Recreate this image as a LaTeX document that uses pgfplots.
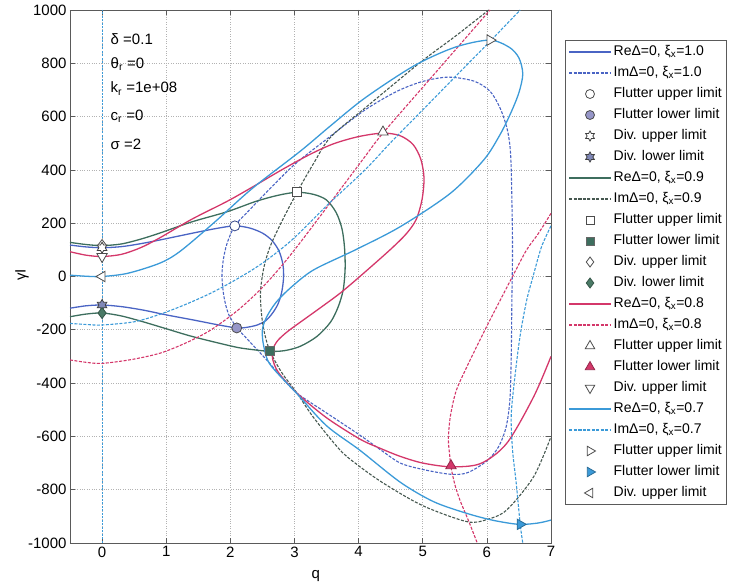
\documentclass[border=0pt]{standalone}
\usepackage{fontspec}
\setmainfont{Liberation Sans}
\usepackage{pgfplots}
\pgfplotsset{compat=1.18}

\definecolor{cA}{RGB}{74,100,196}
\definecolor{cB}{RGB}{61,110,94}
\definecolor{cBd}{RGB}{70,88,80}
\definecolor{cC}{RGB}{212,55,106}
\definecolor{cD}{RGB}{59,154,216}
\definecolor{fA}{RGB}{150,150,200}
\definecolor{fAs}{RGB}{128,136,184}
\definecolor{fB}{RGB}{74,122,102}
\definecolor{axc}{RGB}{90,90,90}

\pgfdeclareplotmark{hexagram}{%
  \pgfpathmoveto{\pgfpointpolar{90}{\pgfplotmarksize}}%
  \pgfpathlineto{\pgfpointpolar{120}{0.577\pgfplotmarksize}}%
  \pgfpathlineto{\pgfpointpolar{150}{\pgfplotmarksize}}%
  \pgfpathlineto{\pgfpointpolar{180}{0.577\pgfplotmarksize}}%
  \pgfpathlineto{\pgfpointpolar{210}{\pgfplotmarksize}}%
  \pgfpathlineto{\pgfpointpolar{240}{0.577\pgfplotmarksize}}%
  \pgfpathlineto{\pgfpointpolar{270}{\pgfplotmarksize}}%
  \pgfpathlineto{\pgfpointpolar{300}{0.577\pgfplotmarksize}}%
  \pgfpathlineto{\pgfpointpolar{330}{\pgfplotmarksize}}%
  \pgfpathlineto{\pgfpointpolar{0}{0.577\pgfplotmarksize}}%
  \pgfpathlineto{\pgfpointpolar{30}{\pgfplotmarksize}}%
  \pgfpathlineto{\pgfpointpolar{60}{0.577\pgfplotmarksize}}%
  \pgfpathclose
  \pgfusepathqfillstroke
}

\pgfplotsset{
  re/.style={smooth, line width=1.3pt, no marks},
  im/.style={smooth, line width=1.1pt, no marks, dash pattern=on 3pt off 1.5pt},
}

\begin{document}
\begin{tikzpicture}[x=1pt,y=1pt]
\path[use as bounding box] (-70,-40) rectangle (666,543);
\begin{axis}[
  at={(0,0)}, anchor=south west,
  scale only axis, width=481pt, height=533pt,
  xmin=-0.5, xmax=7, ymin=-1000, ymax=1000,
  xtick={0,1,...,7}, ytick={-1000,-800,...,1000},
  grid=major, grid style={dotted, gray!60, line width=0.7pt},
  tick align=inside, major tick length=5pt,
  axis line style={axc, line width=0.8pt},
  tick style={axc, line width=0.6pt},
  tick label style={font=\fontsize{15}{17}\selectfont},
  /pgf/number format/assume math mode=true,
  /pgf/number format/1000 sep={},
  xlabel={q}, ylabel={γI},
  label style={font=\fontsize{15}{17}\selectfont},
  xlabel style={at={(axis description cs:0.511,-0.066)}, anchor=base},
  ylabel style={at={(axis description cs:-0.1,0.503)}, anchor=center},
  legend image code/.code={\draw[mark repeat=2,mark phase=2,#1] plot coordinates {(0pt,0pt) (21pt,0pt) (42pt,0pt)};},
  legend cell align=left,
  legend style={at={(axis description cs:1.029,0.944)}, anchor=north west,
    draw=axc, line width=0.8pt, font=\fontsize{14}{16}\selectfont,
    row sep=3.5pt, inner xsep=3pt, inner ysep=3pt,
    nodes={text height=10pt, text depth=3.5pt, inner sep=2pt}},
]
% vertical Im line at q=0
\addplot[forget plot, cD, line width=1pt, dash pattern=on 2pt off 1.5pt] coordinates {(0,-1000) (0,1000)};

% ---------- xi = 1.0
\addplot[forget plot, re, cA] coordinates {
(-0.5,118) (-0.25,111) (0,108) (0.3,112) (0.6,123) (0.9,137) (1.2,152) (1.5,167) (1.8,181) (2.07,190)
(2.3,182) (2.5,163) (2.65,135) (2.76,95) (2.82,45) (2.83,-5) (2.80,-60) (2.74,-105) (2.65,-140)
(2.55,-166) (2.42,-182) (2.25,-191) (2.10,-193) (1.8,-181) (1.42,-163) (1.0,-144) (0.64,-126)
(0.3,-113) (0,-107) (-0.25,-110) (-0.5,-119)};
\addplot[forget plot, im, cA] coordinates {
(2.10,-193) (1.97,-140) (1.90,-75) (1.87,0) (1.89,62) (1.95,125) (2.07,190) (2.3,250) (2.6,325)
(3.0,420) (3.5,515) (4.1,625) (4.6,695) (5.0,732) (5.4,748) (5.8,733) (6.05,695) (6.21,630)
(6.32,550) (6.37,460) (6.39,290) (6.40,100) (6.39,-90) (6.38,-300) (6.36,-460) (6.30,-565)
(6.18,-640) (6.0,-692) (5.7,-736) (5.43,-742) (5.0,-724) (4.65,-700) (4.34,-650) (4.0,-592)
(3.5,-512) (3.04,-438) (2.8,-378) (2.6,-322) (2.35,-257) (2.10,-193)};

% ---------- xi = 0.9
\addplot[forget plot, re, cB] coordinates {
(-0.5,128) (-0.25,120) (0,116) (0.3,122) (0.6,140) (0.9,163) (1.4,205) (1.95,243) (2.4,282)
(2.75,305) (3.04,316) (3.3,308) (3.5,287) (3.65,240) (3.74,180) (3.78,110) (3.79,30) (3.76,-50)
(3.68,-115) (3.56,-172) (3.35,-225) (3.09,-262) (2.85,-278) (2.62,-281) (2.3,-273) (2.05,-263)
(1.42,-226) (1.0,-196) (0.64,-170) (0.3,-148) (0,-137) (-0.25,-141) (-0.5,-151)};
\addplot[forget plot, im, cBd] coordinates {
(6.03,1000) (5.5,900) (4.96,803) (4.1,632) (3.56,522) (3.3,425) (3.04,316) (2.8,205) (2.62,112)
(2.52,30) (2.47,-60) (2.49,-150) (2.54,-220) (2.62,-281) (2.8,-360) (3.04,-438) (3.3,-530)
(3.71,-651) (4.0,-710) (4.39,-776) (5.0,-860) (5.69,-920) (6.0,-912) (6.31,-876) (6.73,-751) (7.0,-601)};

% ---------- xi = 0.8
\addplot[forget plot, re, cC] coordinates {
(-0.5,93) (-0.25,80) (0,75) (0.3,83) (0.6,108) (0.9,145) (1.4,215) (1.95,282) (2.34,335) (2.8,400)
(3.24,458) (3.61,498) (4.0,525) (4.38,538) (4.65,528) (4.85,495) (4.97,440) (5.02,370) (4.99,290)
(4.90,215) (4.75,162) (4.49,100) (4.02,0) (3.71,-63) (3.40,-118) (3.14,-163) (2.90,-205)
(2.74,-240) (2.66,-275) (2.66,-310) (2.75,-360) (3.04,-438) (3.5,-530) (4.02,-610) (4.34,-645)
(4.65,-675) (5.0,-700) (5.44,-714) (5.9,-702) (6.31,-626) (6.73,-451) (7.0,-300)};
\addplot[forget plot, im, cC] coordinates {
(-0.5,-313) (-0.25,-322) (0,-326) (0.45,-312) (0.9,-288) (1.3,-250) (1.68,-203) (2.1,-130)
(2.46,-51) (2.8,40) (3.12,137) (3.6,290) (4.1,450) (4.38,538) (5.2,765) (6.05,1000)};
\addplot[forget plot, im, cC] coordinates {
(7.0,237) (6.8,160) (6.62,100) (6.4,0) (6.21,-88) (5.95,-210) (5.69,-338) (5.52,-430) (5.43,-526)
(5.40,-610) (5.42,-670) (5.44,-714) (5.50,-780) (5.58,-839) (5.72,-920) (5.85,-1000)};

% ---------- xi = 0.7
\addplot[forget plot, re, cD] coordinates {
(-0.5,5) (-0.25,1) (0,0) (0.4,12) (0.9,50) (1.22,95) (1.76,205) (2.34,330) (3.09,470) (3.56,565)
(4.1,670) (4.86,790) (5.5,860) (6.04,887) (6.35,860) (6.5,820) (6.56,760) (6.5,690) (6.37,612)
(6.2,530) (5.95,437) (5.43,312) (4.65,187) (3.95,100) (3.3,25) (2.95,-40) (2.72,-95) (2.57,-150)
(2.50,-200) (2.52,-260) (2.62,-330) (3.04,-440) (3.5,-560) (4.02,-652) (4.65,-772) (5.17,-845)
(5.69,-889) (6.1,-915) (6.5,-930) (6.8,-925) (7.0,-914)};
\addplot[forget plot, im, cD] coordinates {
(-0.5,-176) (-0.25,-180) (0,-182) (0.5,-170) (0.9,-142) (1.3,-105) (1.7,-62) (2.1,-10) (2.5,50)
(2.96,137) (3.5,265) (4.1,400) (4.49,500) (5.0,625) (5.5,748) (6.04,880) (6.52,1000)};
\addplot[forget plot, im, cD] coordinates {
(7.0,190) (6.85,110) (6.72,0) (6.62,-90) (6.52,-220) (6.44,-370) (6.38,-520) (6.40,-650)
(6.46,-780) (6.52,-930) (6.56,-1000)};

% ---------- markers
\addplot[forget plot, only marks, mark=*, mark size=5pt, mark options={fill=white, draw=cA!70!black, line width=0.8pt}] coordinates {(2.07,190)};
\addplot[forget plot, only marks, mark=*, mark size=5pt, mark options={fill=fA, draw=gray!60!black, line width=0.8pt}] coordinates {(2.10,-193)};
\addplot[forget plot, only marks, mark=diamond*, mark size=5.5pt, mark options={fill=white, draw=black!70, line width=0.8pt}] coordinates {(0,118)};
\addplot[forget plot, only marks, mark=hexagram, mark size=5.5pt, mark options={fill=white, draw=gray!50!black, line width=0.8pt}] coordinates {(0,108)};
\addplot[forget plot, only marks, mark=hexagram, mark size=5.5pt, mark options={fill=fAs, draw=gray!50!black, line width=0.8pt}] coordinates {(0,-107)};
\addplot[forget plot, only marks, mark=diamond*, mark size=5.5pt, mark options={fill=fB, draw=fB!70!black, line width=0.8pt}] coordinates {(0,-137)};
\addplot[forget plot, only marks, mark=square*, mark size=4.5pt, mark options={fill=white, draw=black!70, line width=0.8pt}] coordinates {(3.04,316)};
\addplot[forget plot, only marks, mark=square*, mark size=4.5pt, mark options={fill=cB, draw=black!60, line width=0.8pt}] coordinates {(2.62,-281)};
\addplot[forget plot, only marks, mark=triangle*, mark size=6pt, mark options={fill=white, draw=black!70, line width=0.8pt}] coordinates {(4.38,542)};
\addplot[forget plot, only marks, mark=triangle*, mark size=6pt, mark options={fill=cC, draw=cC!70!black, line width=0.8pt}] coordinates {(5.44,-710)};
\addplot[forget plot, only marks, mark=triangle*, mark size=6pt, mark options={fill=white, draw=black!70, line width=0.8pt, rotate=180}] coordinates {(0,75)};
\addplot[forget plot, only marks, mark=triangle*, mark size=6pt, mark options={fill=white, draw=black!70, line width=0.8pt, rotate=-90}] coordinates {(6.05,887)};
\addplot[forget plot, only marks, mark=triangle*, mark size=6pt, mark options={fill=cD, draw=cD!70!black, line width=0.8pt, rotate=-90}] coordinates {(6.52,-930)};
\addplot[forget plot, only marks, mark=triangle*, mark size=6pt, mark options={fill=white, draw=black!70, line width=0.8pt, rotate=90}] coordinates {(0,0)};

% ---------- annotations
\node[anchor=base west, font=\fontsize{15}{17}\selectfont] at (axis cs:0.08,869) {δ =0.1};
\node[anchor=base west, font=\fontsize{15}{17}\selectfont] at (axis cs:0.08,782) {θ\textsubscript{r} =0};
\node[anchor=base west, font=\fontsize{15}{17}\selectfont] at (axis cs:0.08,689) {k\textsubscript{r} =1e+08};
\node[anchor=base west, font=\fontsize{15}{17}\selectfont] at (axis cs:0.08,587) {c\textsubscript{r} =0};
\node[anchor=base west, font=\fontsize{15}{17}\selectfont] at (axis cs:0.08,475) {σ =2};

% ---------- legend
\addlegendimage{re, cA}\addlegendentry{ReΔ=0, ξ\textsubscript{x}=1.0}
\addlegendimage{im, cA}\addlegendentry{ImΔ=0, ξ\textsubscript{x}=1.0}
\addlegendimage{only marks, mark=*, mark size=4.5pt, mark options={fill=white, draw=gray!60!black, line width=0.8pt}}\addlegendentry{Flutter upper limit}
\addlegendimage{only marks, mark=*, mark size=4.5pt, mark options={fill=fA, draw=gray!60!black, line width=0.8pt}}\addlegendentry{Flutter lower limit}
\addlegendimage{only marks, mark=hexagram, mark size=5pt, mark options={fill=white, draw=gray!50!black, line width=0.8pt}}\addlegendentry{Div. upper limit}
\addlegendimage{only marks, mark=hexagram, mark size=5pt, mark options={fill=fAs, draw=gray!50!black, line width=0.8pt}}\addlegendentry{Div. lower limit}
\addlegendimage{re, cB}\addlegendentry{ReΔ=0, ξ\textsubscript{x}=0.9}
\addlegendimage{im, cBd}\addlegendentry{ImΔ=0, ξ\textsubscript{x}=0.9}
\addlegendimage{only marks, mark=square*, mark size=4pt, mark options={fill=white, draw=black!70, line width=0.8pt}}\addlegendentry{Flutter upper limit}
\addlegendimage{only marks, mark=square*, mark size=4pt, mark options={fill=cB, draw=black!60, line width=0.8pt}}\addlegendentry{Flutter lower limit}
\addlegendimage{only marks, mark=diamond*, mark size=5pt, mark options={fill=white, draw=black!70, line width=0.8pt}}\addlegendentry{Div. upper limit}
\addlegendimage{only marks, mark=diamond*, mark size=5pt, mark options={fill=fB, draw=fB!70!black, line width=0.8pt}}\addlegendentry{Div. lower limit}
\addlegendimage{re, cC}\addlegendentry{ReΔ=0, ξ\textsubscript{x}=0.8}
\addlegendimage{im, cC}\addlegendentry{ImΔ=0, ξ\textsubscript{x}=0.8}
\addlegendimage{only marks, mark=triangle*, mark size=5.5pt, mark options={fill=white, draw=black!70, line width=0.8pt}}\addlegendentry{Flutter upper limit}
\addlegendimage{only marks, mark=triangle*, mark size=5.5pt, mark options={fill=cC, draw=cC!70!black, line width=0.8pt}}\addlegendentry{Flutter lower limit}
\addlegendimage{only marks, mark=triangle*, mark size=5.5pt, mark options={fill=white, draw=black!70, line width=0.8pt, rotate=180}}\addlegendentry{Div. upper limit}
\addlegendimage{re, cD}\addlegendentry{ReΔ=0, ξ\textsubscript{x}=0.7}
\addlegendimage{im, cD}\addlegendentry{ImΔ=0, ξ\textsubscript{x}=0.7}
\addlegendimage{only marks, mark=triangle*, mark size=5.5pt, mark options={fill=white, draw=black!70, line width=0.8pt, rotate=-90}}\addlegendentry{Flutter upper limit}
\addlegendimage{only marks, mark=triangle*, mark size=5.5pt, mark options={fill=cD, draw=cD!70!black, line width=0.8pt, rotate=-90}}\addlegendentry{Flutter lower limit}
\addlegendimage{only marks, mark=triangle*, mark size=5.5pt, mark options={fill=white, draw=black!70, line width=0.8pt, rotate=90}}\addlegendentry{Div. upper limit}
\end{axis}
\end{tikzpicture}
\end{document}
